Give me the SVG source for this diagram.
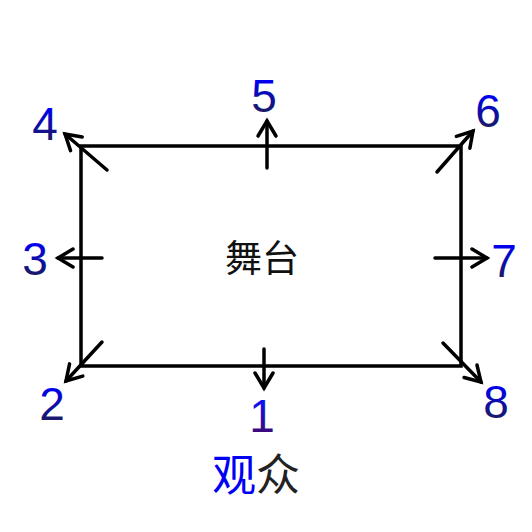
<svg xmlns="http://www.w3.org/2000/svg" width="532" height="532" viewBox="0 0 532 532">
<style>
.num{font-family:"Liberation Sans",Arial,sans-serif;font-size:46px;text-anchor:middle;fill:url(#g)}
.cjk{font-family:"Noto Sans CJK SC","Noto Sans",sans-serif;text-anchor:middle}
.ar{stroke:#000;stroke-width:3.5;fill:none;stroke-linecap:round;marker-end:url(#ah)}
</style>
<defs>
<linearGradient id="g" x1="0" y1="0" x2="0" y2="1">
<stop offset="0.2" stop-color="#0000f0"/>
<stop offset="1" stop-color="#22223a"/>
</linearGradient>
<linearGradient id="g1" x1="0" y1="0" x2="0" y2="1">
<stop offset="0.2" stop-color="#1010f0"/>
<stop offset="1" stop-color="#4a0858"/>
</linearGradient>
<marker id="ah" markerUnits="userSpaceOnUse" markerWidth="30" markerHeight="30" viewBox="-20 -15 30 30" refX="0" refY="0" orient="auto" overflow="visible">
<path d="M-15,-9 L0,0 L-15,9" fill="none" stroke="#000" stroke-width="3.5" stroke-linecap="round" stroke-linejoin="miter"/>
</marker>
</defs>
<rect width="532" height="532" fill="#fff"/>
<g id="stage">
<rect x="81" y="146" width="380" height="220" fill="none" stroke="#000" stroke-width="3.5"/>
<text class="cjk" x="262" y="272" font-size="37" fill="#111">舞台</text>
</g>
<g id="connectors">
<path class="ar" d="M264,349 L264,388"/>
<path class="ar" d="M102,342 L66,381"/>
<path class="ar" d="M102,258 L58,258"/>
<path class="ar" d="M107,170 L65,134"/>
<path class="ar" d="M267,168 L267,121"/>
<path class="ar" d="M437,172 L473,131"/>
<path class="ar" d="M435,258 L487,258"/>
<path class="ar" d="M443,343 L481,382"/>
</g>
<g id="labels">
<text class="num" x="262" y="432" style="fill:url(#g1)">1</text>
<text class="num" x="52" y="420">2</text>
<text class="num" x="35" y="275">3</text>
<text class="num" x="45" y="140">4</text>
<text class="num" x="264" y="112">5</text>
<text class="num" x="488" y="127">6</text>
<text class="num" x="504" y="277">7</text>
<text class="num" x="496" y="418">8</text>
</g>
<g id="audience">
<text class="cjk" x="256" y="491" font-size="44"><tspan fill="#0000f5">观</tspan><tspan fill="#222">众</tspan></text>
</g>
</svg>
